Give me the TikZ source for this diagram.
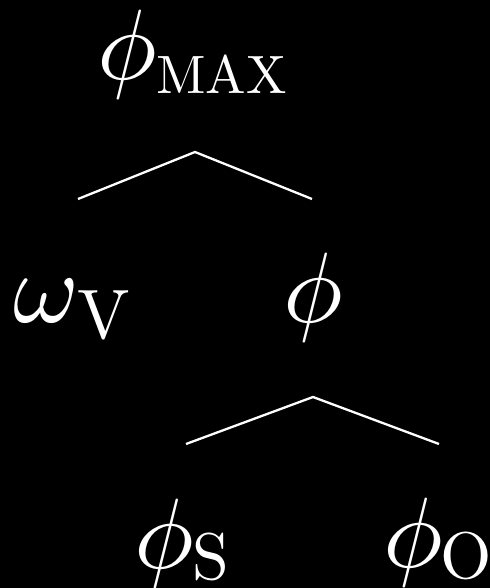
\RequirePackage{fix-cm}
\documentclass[tikz,border=0pt]{standalone}
\usepackage{graphicx}
\newcommand\mysym[1]{\scalebox{10}{\fontsize{10}{12}\selectfont$#1$}}
\newcommand\mysub[3]{\raisebox{-#2pt}{\scalebox{#1}{\fontsize{10}{12}\selectfont\rmfamily #3}}}
\begin{document}
\begin{tikzpicture}[x=1pt,y=-1pt,
  lbl/.style={text=white,inner sep=0pt,outer sep=0pt,anchor=base west},
  edge/.style={draw=white,line width=2.3pt}]
\fill[black] (0,0) rectangle (490,588);
\useasboundingbox (0,0) rectangle (490,588);
\node[lbl] (max) at (97,80) {\mysym{\phi}\hspace{-0.5pt}\mysub{5.4}{14}{MAX}};
\node[lbl] (omv) at (13,322) {\mysym{\omega}\hspace{-1pt}\mysub{7}{17}{V}};
\node[lbl] (phi) at (283,322) {\mysym{\phi}};
\node[lbl] (phs) at (134,568) {\mysym{\phi}\hspace{-1.5pt}\mysub{6.6}{11}{S}};
\node[lbl] (pho) at (383,567) {\mysym{\phi}\hspace{-2.5pt}\mysub{6.6}{11}{O}};
\coordinate (a1) at (195,152);
\coordinate (l1) at (78,199);
\coordinate (r1) at (312,199);
\coordinate (a2) at (313,397);
\coordinate (l2) at (186,444);
\coordinate (r2) at (439,444);
\draw[edge] (l1) -- (a1) -- (r1);
\draw[edge] (l2) -- (a2) -- (r2);
\end{tikzpicture}
\end{document}
